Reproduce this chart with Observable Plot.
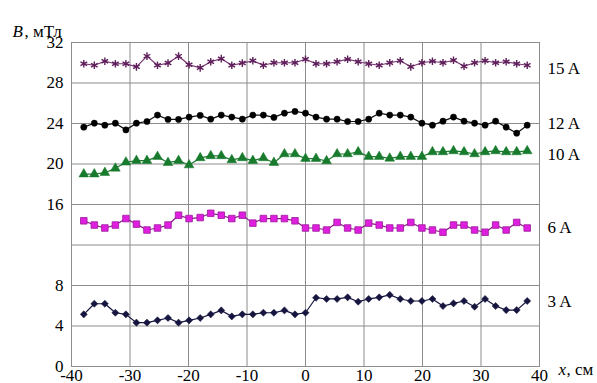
<!DOCTYPE html>
<html>
<head>
<meta charset="utf-8">
<script src="https://cdn.jsdelivr.net/npm/d3@7"></script>
<script src="https://cdn.jsdelivr.net/npm/@observablehq/plot@0.6"></script>
<style>
  html, body { margin: 0; padding: 0; background: #fff; }
  #chart svg, #chart svg text, #chart svg g { font-family: "Liberation Serif", "DejaVu Serif", serif !important; }
</style>
</head>
<body>
<div id="chart"></div>
<script>
// x positions, cm
const xPos = [-37.9, -36.1, -34.3, -32.5, -30.7, -28.9, -27.1, -25.3, -23.5, -21.7, -19.9, -18.0, -16.2, -14.4, -12.6, -10.8, -9.0, -7.2, -5.4, -3.6, -1.8, 0.0, 1.8, 3.6, 5.4, 7.2, 9.0, 10.8, 12.6, 14.4, 16.2, 18.0, 19.9, 21.7, 23.5, 25.3, 27.1, 28.9, 30.7, 32.5, 34.3, 36.1, 37.9];
// B, mT for each current
const b15 = [29.9, 29.75, 30.15, 29.9, 29.9, 29.6, 30.65, 29.75, 29.97, 30.65, 29.8, 29.5, 30.1, 30.4, 29.75, 29.97, 30.2, 29.75, 30.0, 30.0, 30.0, 30.35, 29.9, 29.9, 30.1, 30.35, 30.1, 29.9, 29.75, 30.0, 30.2, 29.6, 30.0, 30.15, 30.0, 30.25, 29.65, 30.0, 30.2, 30.0, 30.1, 29.9, 29.75];
const b12 = [23.64, 24.03, 23.83, 24.03, 23.37, 24.03, 24.2, 24.83, 24.4, 24.4, 24.63, 24.8, 24.43, 24.83, 24.63, 24.43, 24.83, 24.83, 24.6, 25.02, 25.19, 25.02, 24.63, 24.43, 24.43, 24.2, 24.2, 24.43, 25.02, 24.83, 24.83, 24.63, 24.03, 23.83, 24.23, 24.63, 24.23, 24.03, 23.83, 24.23, 23.64, 23.04, 23.83];
const b10 = [19.0, 19.0, 19.14, 19.57, 20.17, 20.33, 20.33, 20.73, 20.13, 20.33, 19.9, 20.6, 20.8, 20.8, 20.4, 20.6, 20.33, 20.6, 20.13, 20.99, 20.99, 20.53, 20.53, 20.3, 20.99, 20.99, 21.19, 20.73, 20.73, 20.56, 20.73, 20.73, 20.73, 21.19, 21.19, 21.29, 21.19, 20.99, 21.19, 21.29, 21.19, 21.19, 21.29];
const b6 = [14.39, 13.97, 13.68, 13.97, 14.61, 14.06, 13.48, 13.68, 13.97, 14.94, 14.61, 14.71, 15.13, 14.94, 14.61, 14.94, 14.16, 14.61, 14.61, 14.61, 14.39, 13.68, 13.68, 13.48, 14.23, 13.68, 13.48, 14.16, 13.97, 13.68, 13.68, 14.23, 13.68, 13.48, 13.26, 13.97, 13.97, 13.48, 13.26, 13.97, 13.48, 14.23, 13.68];
const b3 = [5.15, 6.2, 6.2, 5.31, 5.15, 4.33, 4.33, 4.56, 4.79, 4.33, 4.56, 4.79, 5.15, 5.54, 4.95, 5.15, 5.15, 5.31, 5.31, 5.54, 5.15, 5.31, 6.79, 6.67, 6.67, 6.83, 6.4, 6.67, 6.83, 7.07, 6.67, 6.47, 6.47, 6.67, 5.97, 6.23, 6.47, 5.9, 6.67, 5.97, 5.57, 5.57, 6.47];

const seriesNames = ["15 A", "12 A", "10 A", "6 A", "3 A"];
const labelY = [29.45, 24.0, 20.9, 13.7, 6.4];
const xTicks = [-40, -30, -20, -10, 0, 10, 20, 30, 40];
const yGrid = [0, 4, 8, 12, 16, 20, 24, 28, 32];
const yTickLabels = [0, 4, 8, 16, 20, 24, 28, 32];

const styles = [
  {values: b15, line: "#7a3474", fill: "none", stroke: "#5e1f5a", symbol: "asterisk", r: 3.6, sw: 1.4},
  {values: b12, line: "#111111", fill: "#000000", stroke: "#000000", symbol: "circle", r: 3.1, sw: 0.5},
  {values: b10, line: "#1f7a30", fill: "#177a2c", stroke: "#177a2c", symbol: "triangle", r: 3.6, sw: 0.5},
  {values: b6, line: "#8a1a86", fill: "#e01ee0", stroke: "#9a1a9a", symbol: "square", r: 3.7, sw: 0.8},
  {values: b3, line: "#15153f", fill: "#15153f", stroke: "#15153f", symbol: "diamond2", r: 3.2, sw: 0.5}
];

const lineMarks = [];
styles.forEach((s) => {
  const rows = xPos.map((x, i) => ({x, b: s.values[i]}));
  lineMarks.push(Plot.line(rows, {x: "x", y: "b", stroke: s.line, strokeWidth: 1.2}));
  lineMarks.push(Plot.dot(rows, {x: "x", y: "b", symbol: () => s.symbol, r: s.r, fill: s.fill, stroke: s.stroke, strokeWidth: s.sw}));
});

const labels = seriesNames.map((name, i) => ({name, y: labelY[i]}));
const serif = "Liberation Serif, DejaVu Serif, serif";

const chart = Plot.plot({
  width: 597,
  height: 383,
  marginLeft: 71,
  marginRight: 58,
  marginTop: 42,
  marginBottom: 17,
  style: {fontFamily: serif, fontSize: "17px", background: "#fff", color: "#000"},
  symbol: {type: "identity"},
  x: {domain: [-40, 40], ticks: xTicks, tickFormat: d => String(d), tickSize: 0, tickPadding: 2, label: null},
  y: {domain: [0, 32], ticks: yTickLabels, tickSize: 0, tickPadding: 8, label: null},
  marks: [
    Plot.gridX(xTicks, {stroke: "#8c8c8c", strokeOpacity: 1, strokeWidth: 1}),
    Plot.gridY(yGrid, {stroke: "#8c8c8c", strokeOpacity: 1, strokeWidth: 1}),
    Plot.frame({stroke: "#8c8c8c", strokeWidth: 1}),
    ...lineMarks,
    Plot.text(labels, {y: "y", text: "name", frameAnchor: "right", dx: 8, textAnchor: "start", fontSize: 17, fontFamily: serif}),
    Plot.text(["B"], {frameAnchor: "top-left", dx: -59, dy: -18, textAnchor: "start", fontStyle: "italic", fontSize: 17, fontFamily: serif}),
    Plot.text([", мТл"], {frameAnchor: "top-left", dx: -47, dy: -18, textAnchor: "start", fontSize: 17, fontFamily: serif}),
    Plot.text(["x"], {frameAnchor: "bottom-right", dx: 19, dy: 8, textAnchor: "start", fontStyle: "italic", fontSize: 17, fontFamily: serif}),
    Plot.text([", см"], {frameAnchor: "bottom-right", dx: 27, dy: 8, textAnchor: "start", fontSize: 17, fontFamily: serif})
  ]
});
document.getElementById("chart").appendChild(chart);
</script>
</body>
</html>
